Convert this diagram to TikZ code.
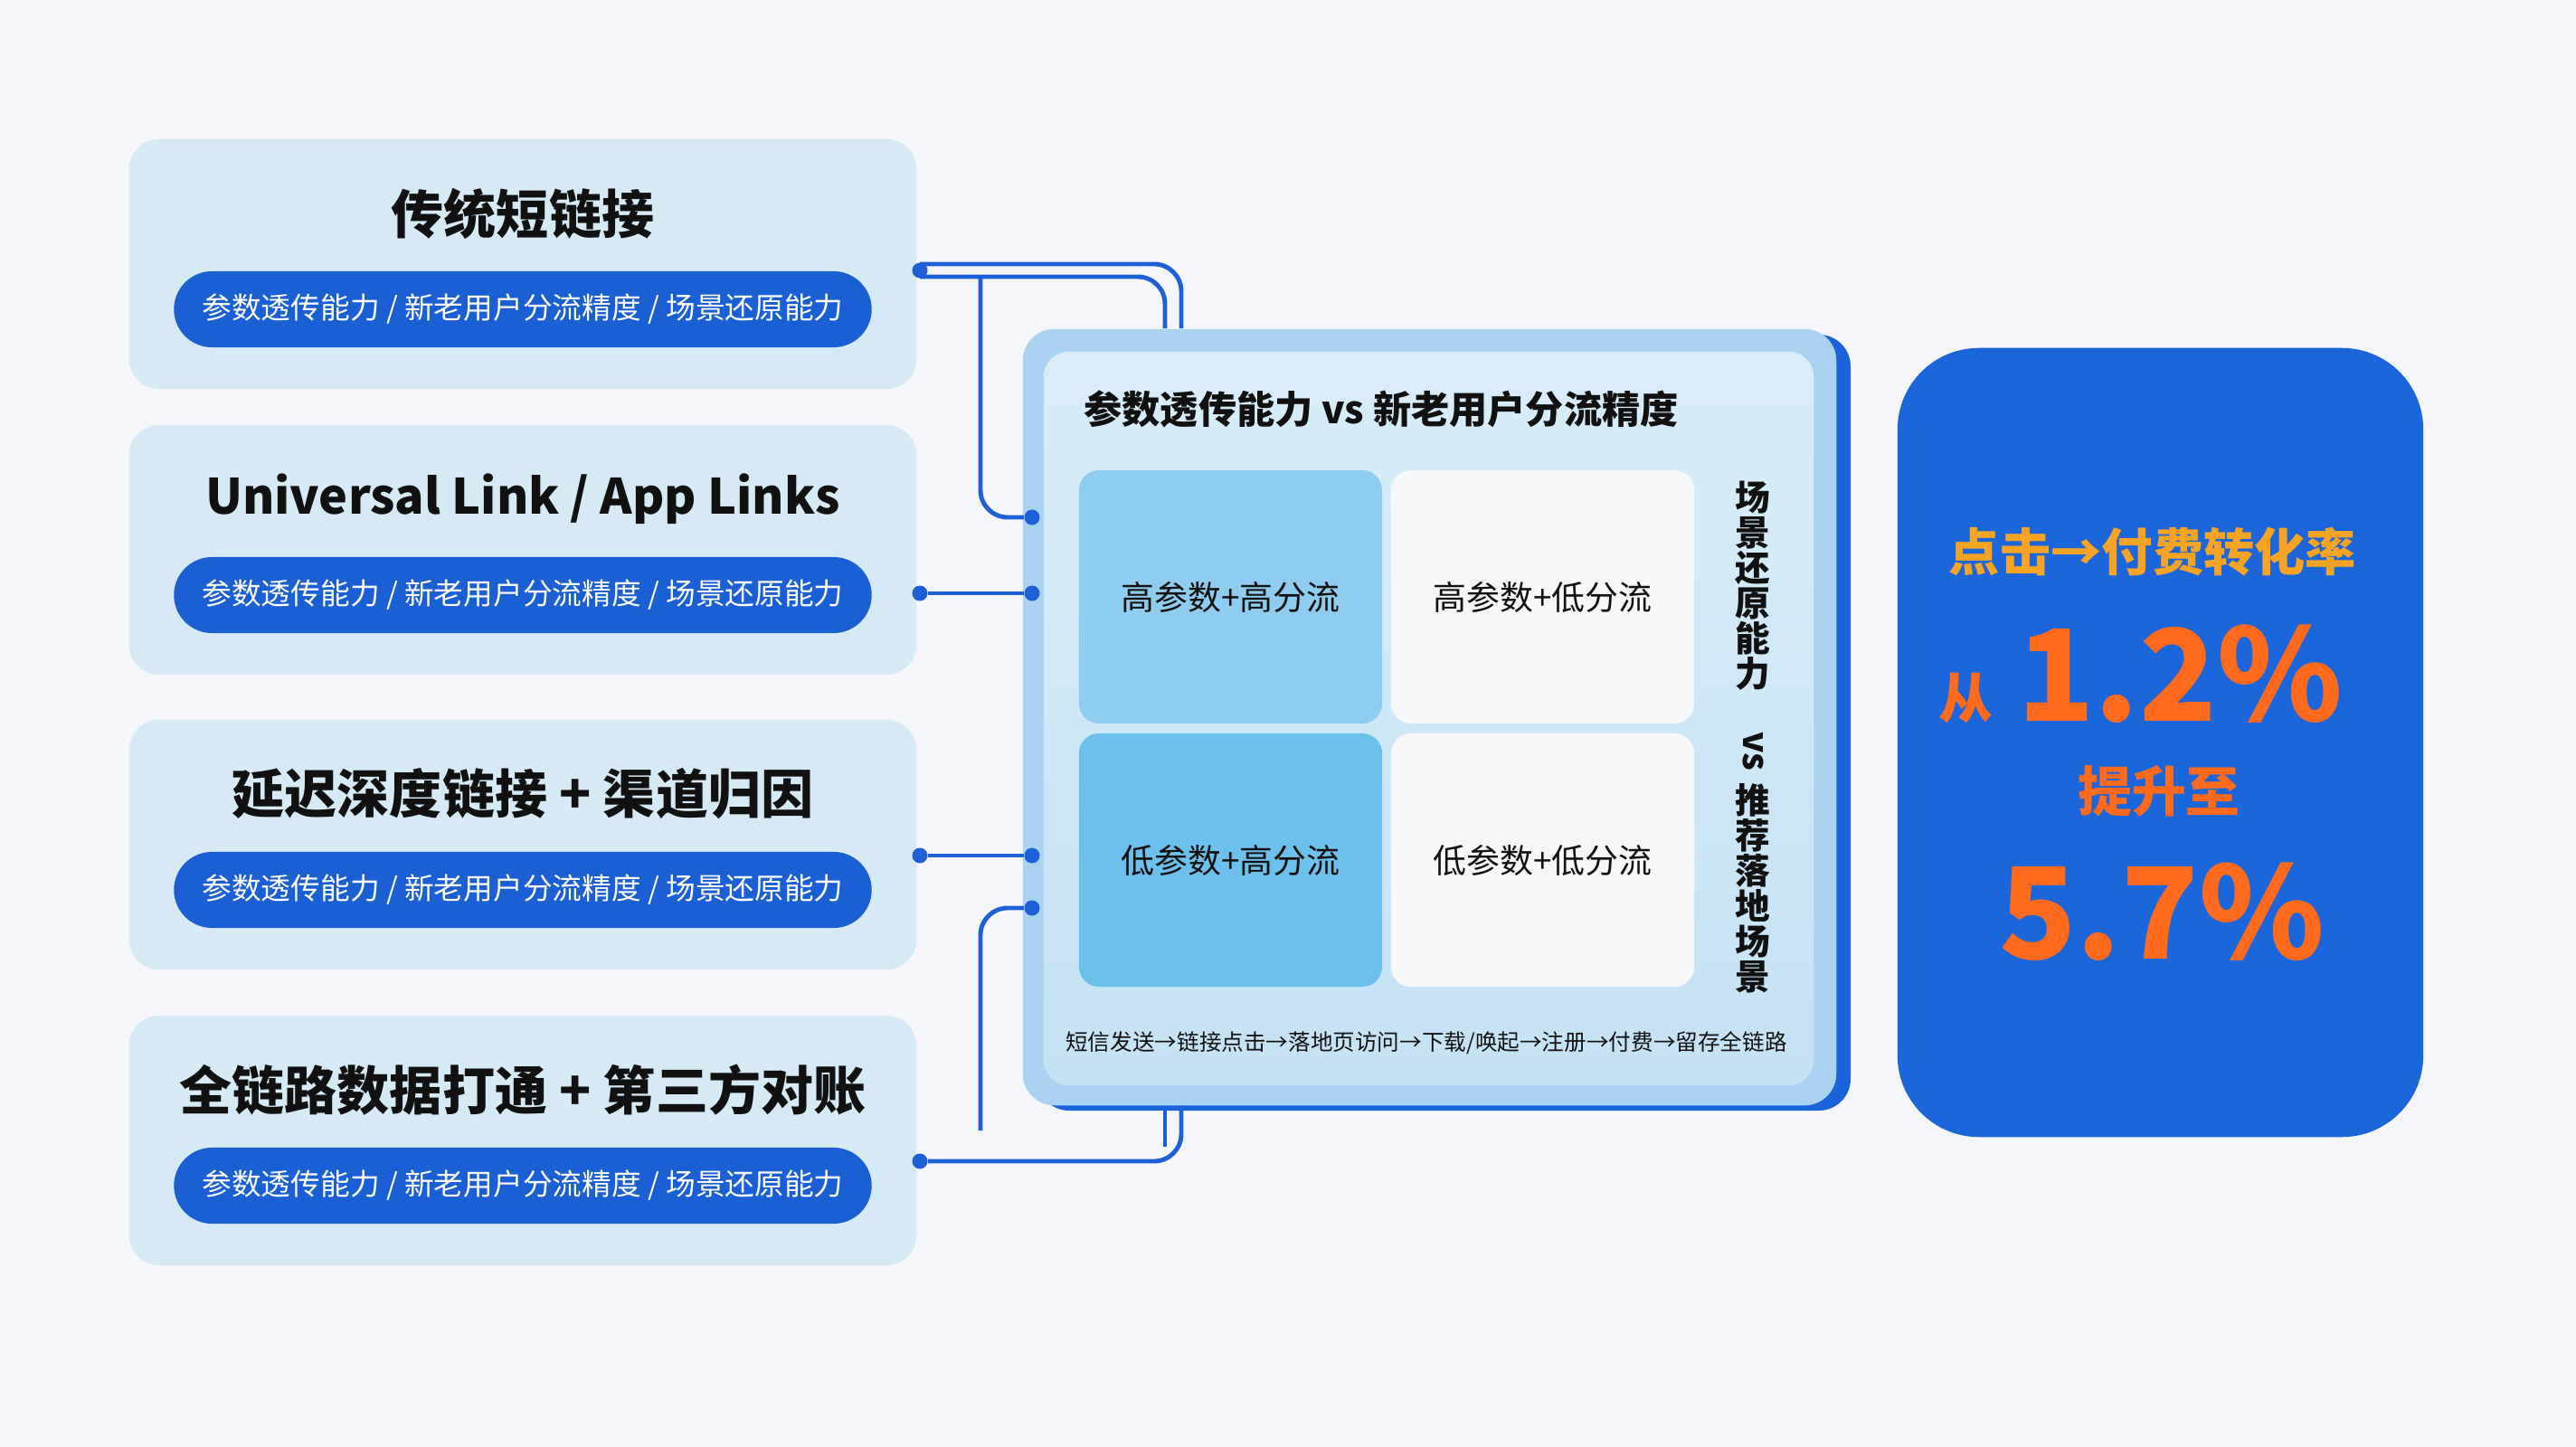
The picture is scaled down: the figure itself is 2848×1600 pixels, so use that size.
\documentclass[tikz,border=0pt]{standalone}
\usepackage{fontspec}
\setmainfont{Noto Sans CJK SC}
\usetikzlibrary{positioning}

\definecolor{bgcol}{HTML}{F4F6F9}
\definecolor{cardcol}{HTML}{D6EAF6}
\definecolor{pillcol}{HTML}{1A5FD3}
\definecolor{linecol}{HTML}{1E60D8}
\definecolor{framecol}{HTML}{A9D3F1}
\definecolor{paneltop}{HTML}{D9EDF9}
\definecolor{panelbot}{HTML}{C4E2F5}
\definecolor{shadecol}{HTML}{1B63DA}
\definecolor{hihicol}{HTML}{8FCDF0}
\definecolor{lohicol}{HTML}{6CC0EC}
\definecolor{cellcol}{HTML}{F6F7F9}
\definecolor{kpicol}{HTML}{1C66DC}
\definecolor{goldcol}{HTML}{F7A424}
\definecolor{orangecol}{HTML}{FF6A1C}
\definecolor{inkcol}{HTML}{111111}

\tikzset{
  card/.style={fill=cardcol, rounded corners=0.33cm, minimum width=8.7cm, minimum height=2.76cm},
  cardtitle/.style={font=\fontsize{16.5}{20}\selectfont\bfseries, text=inkcol},
  pill/.style={fill=pillcol, text=white, rounded corners=0.42cm, minimum width=7.71cm,
    minimum height=0.84cm, inner xsep=0, font=\fontsize{9.3}{12}\selectfont},
  link/.style={draw=linecol, line width=1.4pt, rounded corners=0.3cm},
  dot/.style={circle, fill=linecol, inner sep=0, minimum size=0.17cm},
  cell/.style={rounded corners=0.22cm, minimum width=3.35cm, minimum height=2.8cm,
    font=\fontsize{10.5}{12}\selectfont, text=inkcol},
  bigpct/.style={font=\fontsize{40}{46}\selectfont\bfseries, text=orangecol}
}

\begin{document}
\begin{tikzpicture}[x=0.01cm, y=-0.01cm]
    \useasboundingbox[fill=bgcol] (0,0) rectangle (2848,1600);

    % left cards
    \foreach \i/\y/\title in {1/292/传统短链接, 2/608/{\fontsize{15.3}{18}\selectfont Universal Link / App Links},
        3/934/延迟深度链接 + 渠道归因, 4/1261/全链路数据打通 + 第三方对账} {
        \node[card] (card\i) at (578,\y) {};
        \node[cardtitle] (title\i) at (578,\y-56) {\title};
        \node[pill] (pill\i) at (578,\y+50) {参数透传能力 / 新老用户分流精度 / 场景还原能力};
    }

    % matrix panel
    \fill[shadecol, rounded corners=0.35cm] (1147,370) rectangle (2046,1228);
    \node[fill=framecol, rounded corners=0.35cm, minimum width=8.99cm, minimum height=8.58cm]
        (panel) at (1580.5,793) {};
    \node[top color=paneltop, bottom color=panelbot, rounded corners=0.28cm,
        minimum width=8.51cm, minimum height=8.11cm] (board) at (1579.5,794.5) {};
    \node[anchor=west, font=\fontsize{12}{14}\selectfont\bfseries, text=inkcol]
        (boardtitle) at (1186,452) {参数透传能力 vs 新老用户分流精度};

    \node[cell, fill=hihicol] (hh) at (1360.5,660) {高参数+高分流};
    \node[cell, fill=cellcol] (hl) at (1705.5,660) {高参数+低分流};
    \node[cell, fill=lohicol] (lh) at (1360.5,951) {低参数+高分流};
    \node[cell, fill=cellcol] (ll) at (1705.5,951) {低参数+低分流};

    \node[align=center, inner sep=0, font=\fontsize{11}{11.1}\selectfont\bfseries, text=inkcol]
        (sideaxis) at (1938,815) {场\\景\\还\\原\\能\\力\\[3pt]\rotatebox{-90}{vs}\\[3pt]推\\荐\\落\\地\\场\\景};

    \node[font=\fontsize{7}{9}\selectfont, text=inkcol] (chain) at (1577,1153)
        {短信发送→链接点击→落地页访问→下载/唤起→注册→付费→留存全链路};

    % connectors
    \node[dot] (s1) at (1017,299) {};
    \node[dot] (s2) at (1017,656) {};
    \node[dot] (s3) at (1017,946) {};
    \node[dot] (s4) at (1017,1284) {};
    \node[dot] (t1) at (1141,572) {};
    \node[dot] (t2) at (1141,656) {};
    \node[dot] (t3) at (1141,946) {};
    \node[dot] (t4) at (1141,1004) {};
    \coordinate (b1) at (1084,306);
    \coordinate (b4) at (1084,1250);
    \coordinate (stub) at (1288,1268);

    \draw[link] ([yshift=0.07cm]s1.center) -| (1306,0 |- panel.north);
    \draw[link] ([yshift=-0.07cm]s1.center) -| (1288,0 |- panel.north);
    \draw[link] (b1) |- (t1);
    \draw[link] (s2) -- (t2);
    \draw[link] (s3) -- (t3);
    \draw[link] (b4) |- (t4);
    \draw[link] (s4) -| (1306,0 |- panel.south);
    \draw[link] (stub |- panel.south) -- (stub);

    % result card
    \node[fill=kpicol, rounded corners=0.9cm, minimum width=5.81cm, minimum height=8.72cm]
        (kpi) at (2388.5,821) {};
    \node[font=\fontsize{16}{19}\selectfont\bfseries, text=goldcol] (rate) at (2380,610) {点击→付费转化率};
    \node[bigpct] (old) at (2410,745) {1.2\%};
    \node[font=\fontsize{17}{20}\selectfont\bfseries, text=orangecol, left=0.02cm of old.south west, anchor=south east]
        (from) {从};
    \node[font=\fontsize{17}{20}\selectfont\bfseries, text=orangecol] (up) at (2387,875) {提升至};
    \node[bigpct] (new) at (2390,1008) {5.7\%};
\end{tikzpicture}
\end{document}
